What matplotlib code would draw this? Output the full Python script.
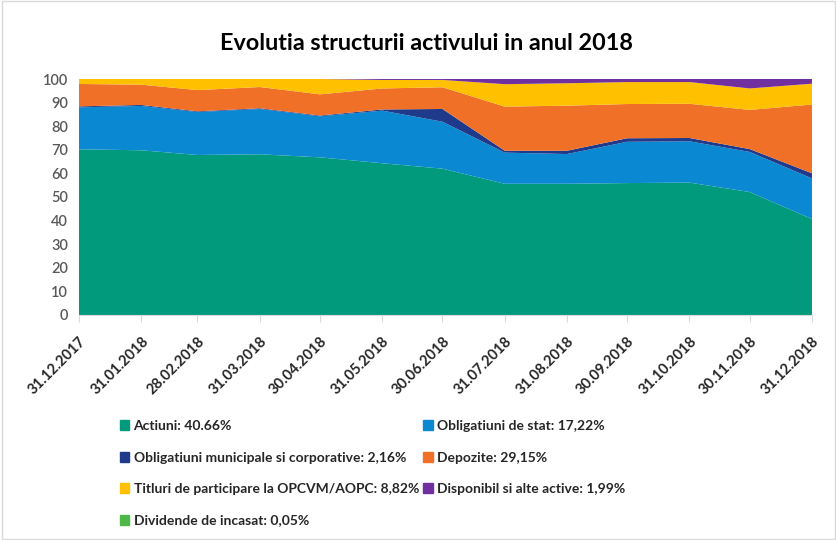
import datetime as dt

import matplotlib
matplotlib.use("Agg")
import matplotlib.pyplot as plt
import matplotlib.dates as mdates
from matplotlib.patches import Rectangle

plt.rcParams['font.family'] = ['Lato', 'DejaVu Sans']

# dates of the reports
date_labels = ["31.12.2017", "31.01.2018", "28.02.2018", "31.03.2018", "30.04.2018",
               "31.05.2018", "30.06.2018", "31.07.2018", "31.08.2018", "30.09.2018",
               "31.10.2018", "30.11.2018", "31.12.2018"]

actiuni = [70.2, 69.8, 67.8, 68.1, 66.8, 64.3, 62.0, 55.6, 55.6, 55.9, 56.1, 52.1, 40.66]
oblig_stat = [17.8, 18.8, 18.2, 19.2, 17.4, 22.3, 19.9, 13.2, 12.6, 17.5, 17.5, 17.0, 17.22]
oblig_munic = [0.4, 0.4, 0.3, 0.3, 0.3, 0.5, 5.4, 0.8, 1.4, 1.5, 1.4, 1.2, 2.16]
depozite = [9.5, 8.6, 9.0, 9.0, 9.0, 8.9, 9.2, 18.7, 19.1, 14.5, 14.5, 16.6, 29.15]
titluri = [2.1, 2.4, 4.7, 3.4, 6.5, 3.6, 3.1, 9.5, 9.5, 9.3, 9.2, 9.1, 8.82]
disponibil = [0.0, 0.0, 0.0, 0.0, 0.0, 0.4, 0.4, 2.2, 1.8, 1.3, 1.3, 4.0, 1.99]
dividende = [0.0, 0.0, 0.0, 0.0, 0.0, 0.0, 0.0, 0.0, 0.0, 0.0, 0.0, 0.0, 0.05]

labels = ["Actiuni: 40.66%", "Obligatiuni de stat: 17,22%",
          "Obligatiuni municipale si corporative: 2,16%", "Depozite: 29,15%",
          "Titluri de participare la OPCVM/AOPC: 8,82%",
          "Disponibil si alte active: 1,99%", "Dividende de incasat: 0,05%"]
colors = ["#029A7C", "#0A89D2", "#1F3A8A", "#F07028", "#FFC000", "#7030A0", "#4DB848"]

dates = [dt.datetime.strptime(d, "%d.%m.%Y") for d in date_labels]
x = mdates.date2num(dates)

fig = plt.figure(figsize=(8.37, 5.40), dpi=100)
ax = fig.add_axes([0.0944, 0.4167, 0.8757, 0.437])

polys = ax.stackplot(x, actiuni, oblig_stat, oblig_munic, depozite, titluri,
                     disponibil, dividende, colors=colors, linewidth=0)

ax.set_xlim(x[0], x[-1])
ax.set_ylim(0, 100)
ax.set_yticks(range(0, 101, 10))
ax.tick_params(axis='y', length=0, labelsize=10.5, labelcolor="#595959", pad=8)
for t in ax.get_yticklabels():
    t.set_fontweight('semibold')
ax.set_xticks(x)
ax.set_xticklabels(date_labels, rotation=45, ha='right', rotation_mode='anchor',
                   fontsize=10.5, fontweight='bold', color="#262626")
ax.tick_params(axis='x', length=5, color="#D9D9D9", pad=9)
for s in ["top", "right", "left"]:
    ax.spines[s].set_visible(False)
ax.spines["bottom"].set_color("#D9D9D9")

fig.text(0.51, 0.92, "Evolutia structurii activului in anul 2018", ha='center',
         va='center', fontsize=16.8, fontweight='bold', color="#000000")

# row-major order in two columns
handles = [Rectangle((0, 0), 1, 1, color=c) for c in colors]
order = [0, 2, 4, 6, 1, 3, 5]
leg = fig.legend([handles[i] for i in order], [labels[i] for i in order],
                 ncol=2, loc='upper left', bbox_to_anchor=(0.128, 0.245),
                 frameon=False, fontsize=10, handlelength=0.7, handleheight=0.7,
                 handletextpad=0.3, columnspacing=0.3, labelspacing=1.4)
for t in leg.get_texts():
    t.set_color("#262626")
    t.set_fontweight('bold')

fig.add_artist(Rectangle((0.002, 0.002), 0.996, 0.996, transform=fig.transFigure,
                         fill=False, edgecolor="#D9D9D9", linewidth=1))

plt.savefig("out.png", dpi=100)
